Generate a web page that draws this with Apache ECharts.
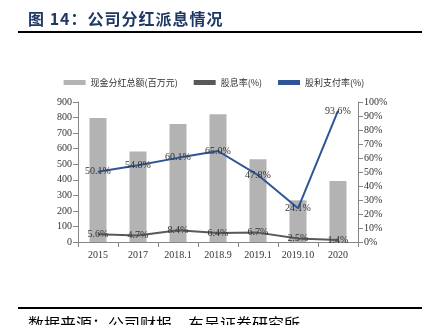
<!DOCTYPE html>
<html>
<head>
<meta charset="utf-8">
<script src="https://cdn.jsdelivr.net/npm/echarts@6/dist/echarts.min.js"></script>
<style>
html,body{margin:0;padding:0;background:#fff;}
#wrap{position:relative;width:428px;height:325px;overflow:hidden;background:#fff;}
#title{position:absolute;left:28px;top:6px;font-family:"Noto Sans CJK SC";font-weight:bold;font-size:16px;color:#1f3864;letter-spacing:1px;}
#tline{position:absolute;left:18px;top:31px;width:404px;height:2px;background:#000;}
#fline{position:absolute;left:18px;top:307px;width:404px;height:2px;background:#000;}
#foot{position:absolute;left:28px;top:311px;font-family:"Noto Sans CJK SC";font-size:16px;color:#000;}
#chart{position:absolute;left:0;top:0;width:428px;height:325px;}
</style>
</head>
<body>
<div id="wrap">
<div id="chart"></div>
<div id="title">图 14：公司分红派息情况</div>
<div id="tline"></div>
<div id="fline"></div>
<div id="foot">数据来源：公司财报，东吴证券研究所</div>
</div>
<script>
var categories = ['2015','2017','2018.1','2018.9','2019.1','2019.10','2020'];
var dividendTotal = [797, 582, 758, 821, 532, 268, 392];
var dividendYield = [5.6, 4.7, 8.4, 6.4, 6.7, 2.5, 1.4];
var payoutRatio = [50.1, 54.8, 60.1, 65.0, 47.8, 24.1, 93.6];
var seriesNames = ['现金分红总额(百万元)','股息率(%)','股利支付率(%)'];

var chart = echarts.init(document.getElementById('chart'), null, {renderer:'canvas'});
var serif = 'Liberation Serif';
var axisColor = '#868686';
function pct(p){ return p.value.toFixed(1) + '%'; }
chart.setOption({
  animation:false,
  backgroundColor:'transparent',
  legend:{
    top:73, left:'center',
    itemWidth:22, itemHeight:5, itemGap:16,
    textStyle:{fontFamily:'Noto Sans CJK SC', fontSize:9, color:'#333'},
    data:[
      {name:seriesNames[0], icon:'rect'},
      {name:seriesNames[1], icon:'rect', itemStyle:{color:'#595959'}},
      {name:seriesNames[2], icon:'rect', itemStyle:{color:'#2f5597'}}
    ]
  },
  grid:{left:78, right:70, top:102, bottom:83},
  xAxis:{
    type:'category', data:categories,
    axisLine:{lineStyle:{color:axisColor}},
    axisTick:{show:true, alignWithLabel:false, interval:0, lineStyle:{color:axisColor}},
    axisLabel:{fontFamily:serif, fontSize:10, color:'#333', margin:8, interval:0}
  },
  yAxis:[
    {type:'value', min:0, max:900, interval:100,
     axisLine:{show:true, lineStyle:{color:axisColor}},
     axisTick:{show:true, lineStyle:{color:axisColor}},
     splitLine:{show:false},
     axisLabel:{fontFamily:serif, fontSize:10, color:'#333', margin:6}},
    {type:'value', min:0, max:100, interval:10,
     axisLine:{show:true, lineStyle:{color:axisColor}},
     axisTick:{show:true, lineStyle:{color:axisColor}},
     splitLine:{show:false},
     axisLabel:{fontFamily:serif, fontSize:10, color:'#333', margin:6, formatter:'{value}%'}}
  ],
  series:[
    {name:seriesNames[0], type:'bar', data:dividendTotal, barWidth:17,
     itemStyle:{color:'#b3b3b3'}},
    {name:seriesNames[1], type:'line', yAxisIndex:1, data:dividendYield,
     symbol:'circle', symbolSize:1, showSymbol:true,
     lineStyle:{color:'#595959', width:2}, itemStyle:{color:'#595959'},
     label:{show:true, position:'inside', formatter:pct, fontFamily:serif, fontSize:10, color:'#333'}},
    {name:seriesNames[2], type:'line', yAxisIndex:1, data:payoutRatio,
     symbol:'circle', symbolSize:1, showSymbol:true,
     lineStyle:{color:'#2f5597', width:2}, itemStyle:{color:'#2f5597'},
     label:{show:true, position:'inside', formatter:pct, fontFamily:serif, fontSize:10, color:'#333'}}
  ]
});
</script>
</body>
</html>
